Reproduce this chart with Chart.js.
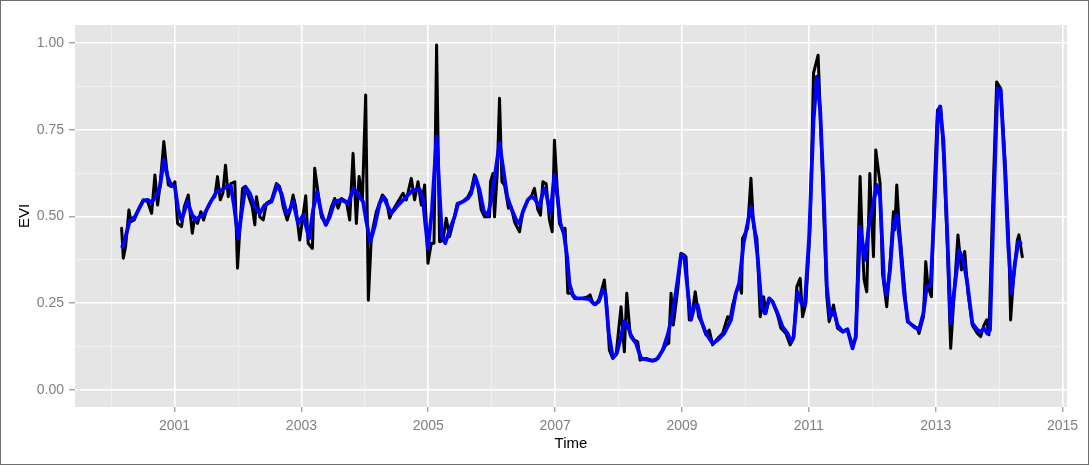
<!DOCTYPE html>
<html>
<head>
<meta charset="utf-8">
<script src="https://cdn.jsdelivr.net/npm/chart.js@4/dist/chart.umd.min.js"></script>
<style>
  html, body { margin: 0; padding: 0; background: #fff; }
  canvas { display: block; }
</style>
</head>
<body>
<canvas id="evi" width="1089" height="465"></canvas>
<script>
// raw 16-day EVI (black) and fitted series (blue)
const rawTime = [
  2000.165, 2000.192, 2000.228, 2000.280, 2000.312, 2000.365, 2000.428, 2000.507, 2000.575, 2000.638,
  2000.690, 2000.732, 2000.769, 2000.831, 2000.901, 2000.953, 2001.005, 2001.047, 2001.110, 2001.153,
  2001.216, 2001.279, 2001.320, 2001.362, 2001.414, 2001.457, 2001.504, 2001.583, 2001.635, 2001.677,
  2001.720, 2001.761, 2001.803, 2001.846, 2001.887, 2001.950, 2001.992, 2002.028, 2002.071, 2002.107,
  2002.170, 2002.224, 2002.265, 2002.291, 2002.343, 2002.397, 2002.449, 2002.528, 2002.606, 2002.658,
  2002.712, 2002.775, 2002.816, 2002.869, 2002.910, 2002.973, 2003.016, 2003.068, 2003.106, 2003.173,
  2003.209, 2003.263, 2003.315, 2003.394, 2003.472, 2003.524, 2003.578, 2003.630, 2003.709, 2003.761,
  2003.814, 2003.866, 2003.909, 2003.961, 2004.013, 2004.055, 2004.102, 2004.181, 2004.276, 2004.339,
  2004.391, 2004.444, 2004.523, 2004.602, 2004.654, 2004.732, 2004.784, 2004.838, 2004.890, 2004.942,
  2004.995, 2005.047, 2005.090, 2005.131, 2005.178, 2005.231, 2005.283, 2005.335, 2005.389, 2005.457,
  2005.546, 2005.625, 2005.677, 2005.729, 2005.783, 2005.835, 2005.887, 2005.965, 2005.981, 2006.019,
  2006.044, 2006.087, 2006.123, 2006.161, 2006.202, 2006.265, 2006.307, 2006.359, 2006.438, 2006.491,
  2006.570, 2006.622, 2006.674, 2006.728, 2006.769, 2006.806, 2006.858, 2006.910, 2006.953, 2006.989,
  2007.031, 2007.068, 2007.121, 2007.157, 2007.200, 2007.252, 2007.304, 2007.436, 2007.515, 2007.551,
  2007.594, 2007.646, 2007.698, 2007.776, 2007.814, 2007.855, 2007.909, 2007.961, 2008.039, 2008.091,
  2008.129, 2008.181, 2008.249, 2008.302, 2008.339, 2008.433, 2008.512, 2008.591, 2008.669, 2008.748,
  2008.791, 2008.827, 2008.863, 2008.932, 2008.984, 2009.036, 2009.063, 2009.115, 2009.169, 2009.209,
  2009.263, 2009.315, 2009.378, 2009.430, 2009.483, 2009.562, 2009.641, 2009.720, 2009.756, 2009.798,
  2009.850, 2009.902, 2009.939, 2009.954, 2010.035, 2010.087, 2010.129, 2010.181, 2010.233, 2010.287,
  2010.323, 2010.375, 2010.428, 2010.507, 2010.559, 2010.638, 2010.706, 2010.759, 2010.811, 2010.863,
  2010.901, 2010.953, 2011.020, 2011.074, 2011.146, 2011.178, 2011.231, 2011.283, 2011.320, 2011.389,
  2011.452, 2011.531, 2011.609, 2011.688, 2011.740, 2011.808, 2011.846, 2011.871, 2011.913, 2011.961,
  2012.019, 2012.055, 2012.123, 2012.161, 2012.228, 2012.280, 2012.334, 2012.354, 2012.386, 2012.422,
  2012.476, 2012.554, 2012.633, 2012.712, 2012.737, 2012.806, 2012.843, 2012.879, 2012.932, 2012.973,
  2013.027, 2013.079, 2013.131, 2013.184, 2013.236, 2013.288, 2013.351, 2013.405, 2013.457, 2013.509,
  2013.578, 2013.657, 2013.709, 2013.761, 2013.803, 2013.839, 2013.893, 2013.961, 2014.024, 2014.102,
  2014.154, 2014.181, 2014.224, 2014.287, 2014.312, 2014.365
];
const rawEVI = [
  0.466, 0.380, 0.413, 0.519, 0.485, 0.490, 0.519, 0.548, 0.543, 0.509,
  0.620, 0.533, 0.586, 0.716, 0.591, 0.586, 0.600, 0.480, 0.471, 0.528,
  0.562, 0.452, 0.499, 0.480, 0.514, 0.490, 0.519, 0.548, 0.557, 0.615,
  0.548, 0.567, 0.648, 0.557, 0.595, 0.600, 0.351, 0.461, 0.581, 0.586,
  0.557, 0.528, 0.476, 0.557, 0.499, 0.490, 0.538, 0.548, 0.595, 0.586,
  0.528, 0.490, 0.514, 0.562, 0.528, 0.432, 0.490, 0.560, 0.423, 0.408,
  0.639, 0.567, 0.499, 0.476, 0.528, 0.552, 0.524, 0.552, 0.543, 0.490,
  0.682, 0.480, 0.615, 0.548, 0.850, 0.259, 0.442, 0.514, 0.562, 0.548,
  0.495, 0.519, 0.543, 0.567, 0.548, 0.610, 0.548, 0.600, 0.533, 0.591,
  0.365, 0.423, 0.423, 0.994, 0.427, 0.432, 0.495, 0.442, 0.480, 0.538,
  0.543, 0.557, 0.576, 0.620, 0.586, 0.519, 0.499, 0.499, 0.600, 0.624,
  0.499, 0.624, 0.841, 0.600, 0.591, 0.524, 0.528, 0.485, 0.456, 0.514,
  0.548, 0.557, 0.581, 0.519, 0.504, 0.600, 0.595, 0.490, 0.456, 0.720,
  0.586, 0.480, 0.461, 0.466, 0.279, 0.279, 0.264, 0.264, 0.269, 0.274,
  0.250, 0.247, 0.264, 0.317, 0.240, 0.115, 0.091, 0.101, 0.240, 0.110,
  0.279, 0.163, 0.144, 0.139, 0.086, 0.091, 0.086, 0.086, 0.106, 0.130,
  0.135, 0.279, 0.187, 0.288, 0.394, 0.389, 0.384, 0.202, 0.231, 0.283,
  0.211, 0.192, 0.159, 0.173, 0.130, 0.149, 0.163, 0.211, 0.202, 0.245,
  0.279, 0.307, 0.279, 0.437, 0.466, 0.610, 0.471, 0.437, 0.211, 0.269,
  0.221, 0.264, 0.254, 0.216, 0.178, 0.163, 0.130, 0.149, 0.298, 0.322,
  0.211, 0.250, 0.471, 0.913, 0.965, 0.807, 0.528, 0.269, 0.197, 0.245,
  0.178, 0.168, 0.173, 0.130, 0.149, 0.615, 0.413, 0.317, 0.283, 0.624,
  0.384, 0.692, 0.595, 0.336, 0.240, 0.365, 0.514, 0.461, 0.591, 0.480,
  0.365, 0.197, 0.187, 0.178, 0.163, 0.211, 0.370, 0.298, 0.269, 0.557,
  0.807, 0.817, 0.653, 0.413, 0.120, 0.269, 0.447, 0.346, 0.399, 0.279,
  0.187, 0.163, 0.154, 0.187, 0.202, 0.159, 0.499, 0.888, 0.869, 0.634,
  0.413, 0.202, 0.317, 0.432, 0.447, 0.384
];

const fitTime = [
  2000.176, 2000.228, 2000.296, 2000.375, 2000.454, 2000.507, 2000.575, 2000.638, 2000.717, 2000.769,
  2000.831, 2000.890, 2000.942, 2001.005, 2001.058, 2001.110, 2001.162, 2001.205, 2001.268, 2001.320,
  2001.398, 2001.477, 2001.556, 2001.661, 2001.740, 2001.819, 2001.887, 2001.940, 2002.003, 2002.055,
  2002.118, 2002.186, 2002.265, 2002.343, 2002.422, 2002.528, 2002.617, 2002.685, 2002.764, 2002.816,
  2002.869, 2002.948, 2003.027, 2003.121, 2003.184, 2003.247, 2003.315, 2003.383, 2003.446, 2003.524,
  2003.630, 2003.735, 2003.824, 2003.893, 2003.972, 2004.024, 2004.087, 2004.154, 2004.233, 2004.296,
  2004.339, 2004.417, 2004.523, 2004.654, 2004.759, 2004.863, 2004.917, 2004.942, 2004.995, 2005.058,
  2005.131, 2005.178, 2005.216, 2005.268, 2005.335, 2005.414, 2005.468, 2005.546, 2005.625, 2005.677,
  2005.740, 2005.808, 2005.877, 2005.940, 2005.992, 2006.055, 2006.123, 2006.192, 2006.244, 2006.307,
  2006.386, 2006.438, 2006.491, 2006.570, 2006.622, 2006.674, 2006.753, 2006.822, 2006.858, 2006.926,
  2006.989, 2007.042, 2007.083, 2007.137, 2007.189, 2007.225, 2007.279, 2007.331, 2007.436, 2007.540,
  2007.619, 2007.688, 2007.751, 2007.792, 2007.846, 2007.909, 2007.972, 2008.039, 2008.091, 2008.145,
  2008.197, 2008.276, 2008.354, 2008.433, 2008.539, 2008.617, 2008.696, 2008.775, 2008.854, 2008.932,
  2008.984, 2009.036, 2009.090, 2009.142, 2009.194, 2009.247, 2009.299, 2009.378, 2009.483, 2009.562,
  2009.666, 2009.772, 2009.850, 2009.902, 2009.971, 2010.024, 2010.087, 2010.139, 2010.192, 2010.255,
  2010.307, 2010.375, 2010.428, 2010.507, 2010.586, 2010.665, 2010.717, 2010.759, 2010.822, 2010.885,
  2010.937, 2011.005, 2011.074, 2011.126, 2011.178, 2011.231, 2011.283, 2011.335, 2011.398, 2011.452,
  2011.531, 2011.609, 2011.688, 2011.740, 2011.808, 2011.887, 2011.950, 2012.003, 2012.071, 2012.123,
  2012.186, 2012.228, 2012.280, 2012.334, 2012.386, 2012.438, 2012.501, 2012.564, 2012.658, 2012.737,
  2012.806, 2012.858, 2012.921, 2012.984, 2013.036, 2013.068, 2013.121, 2013.184, 2013.236, 2013.288,
  2013.367, 2013.436, 2013.499, 2013.578, 2013.657, 2013.709, 2013.761, 2013.814, 2013.856, 2013.918,
  2013.972, 2014.024, 2014.087, 2014.145, 2014.197, 2014.249, 2014.302, 2014.339
];
const fitEVI = [
  0.413, 0.442, 0.490, 0.499, 0.528, 0.546, 0.548, 0.540, 0.562, 0.586,
  0.663, 0.615, 0.591, 0.586, 0.519, 0.490, 0.519, 0.543, 0.509, 0.490,
  0.499, 0.509, 0.538, 0.571, 0.576, 0.586, 0.588, 0.528, 0.437, 0.509,
  0.586, 0.567, 0.528, 0.509, 0.533, 0.543, 0.591, 0.567, 0.509, 0.519,
  0.543, 0.480, 0.504, 0.437, 0.519, 0.571, 0.509, 0.476, 0.499, 0.543,
  0.548, 0.538, 0.581, 0.562, 0.543, 0.485, 0.427, 0.471, 0.538, 0.557,
  0.538, 0.509, 0.533, 0.557, 0.576, 0.578, 0.548, 0.499, 0.408, 0.519,
  0.730, 0.567, 0.442, 0.423, 0.461, 0.499, 0.536, 0.543, 0.552, 0.567,
  0.615, 0.576, 0.514, 0.504, 0.548, 0.624, 0.711, 0.624, 0.557, 0.524,
  0.490, 0.480, 0.514, 0.548, 0.557, 0.552, 0.528, 0.581, 0.567, 0.509,
  0.620, 0.548, 0.480, 0.451, 0.384, 0.307, 0.274, 0.264, 0.264, 0.262,
  0.247, 0.255, 0.288, 0.278, 0.163, 0.094, 0.106, 0.154, 0.197, 0.187,
  0.154, 0.134, 0.091, 0.088, 0.084, 0.091, 0.115, 0.159, 0.221, 0.317,
  0.389, 0.384, 0.288, 0.202, 0.240, 0.245, 0.202, 0.163, 0.134, 0.144,
  0.163, 0.202, 0.279, 0.307, 0.423, 0.471, 0.528, 0.471, 0.384, 0.240,
  0.221, 0.264, 0.254, 0.221, 0.182, 0.163, 0.139, 0.154, 0.283, 0.250,
  0.245, 0.442, 0.778, 0.903, 0.807, 0.586, 0.298, 0.211, 0.226, 0.187,
  0.168, 0.175, 0.120, 0.154, 0.471, 0.375, 0.480, 0.524, 0.591, 0.557,
  0.310, 0.274, 0.346, 0.480, 0.504, 0.423, 0.279, 0.197, 0.182, 0.173,
  0.221, 0.298, 0.303, 0.538, 0.797, 0.817, 0.720, 0.442, 0.192, 0.279,
  0.403, 0.375, 0.307, 0.192, 0.173, 0.168, 0.178, 0.163, 0.173, 0.557,
  0.869, 0.865, 0.653, 0.413, 0.279, 0.365, 0.427, 0.423
];

// axes: majors get labels, the rest are minor grid lines
const yearTicks = [2000, 2001, 2002, 2003, 2004, 2005, 2006, 2007, 2008, 2009, 2010, 2011, 2012, 2013, 2014, 2015];
const yearLabels = [2001, 2003, 2005, 2007, 2009, 2011, 2013, 2015];
const eviTicks = [0, 0.125, 0.25, 0.375, 0.5, 0.625, 0.75, 0.875, 1];
const eviLabels = [0, 0.25, 0.5, 0.75, 1];

const FONT = "'Liberation Sans', Arial, Helvetica, sans-serif";
const isMajorX = v => yearLabels.includes(v);
const isMajorY = v => eviLabels.some(l => Math.abs(l - v) < 1e-9);

const panel = {
  id: 'panel',
  beforeDraw(chart) {
    const { ctx, chartArea: a } = chart;
    ctx.save();
    ctx.fillStyle = '#ffffff';
    ctx.fillRect(0, 0, chart.width, chart.height);
    ctx.fillStyle = '#e5e5e5';
    ctx.fillRect(a.left, a.top, a.right - a.left, a.bottom - a.top);
    ctx.restore();
  },
  afterDraw(chart) {
    const ctx = chart.ctx;
    ctx.save();
    ctx.strokeStyle = '#6e6e6e';
    ctx.lineWidth = 1;
    ctx.strokeRect(0.5, 0.5, chart.width - 1, chart.height - 1);
    ctx.restore();
  }
};

new Chart(document.getElementById('evi'), {
  type: 'line',
  data: {
    datasets: [
      {
        label: 'EVI',
        data: rawTime.map((t, i) => ({ x: t, y: rawEVI[i] })),
        borderColor: '#000000',
        borderWidth: 3,
        pointRadius: 0,
        tension: 0,
        borderJoinStyle: 'round',
        borderCapStyle: 'round',
        order: 1
      },
      {
        label: 'fitted',
        data: fitTime.map((t, i) => ({ x: t, y: fitEVI[i] })),
        borderColor: '#0000ff',
        borderWidth: 3.8,
        pointRadius: 0,
        tension: 0,
        borderJoinStyle: 'round',
        borderCapStyle: 'round',
        order: 0
      }
    ]
  },
  options: {
    responsive: false,
    animation: false,
    devicePixelRatio: 1,
    layout: { padding: { left: 0, right: 22, top: 25, bottom: 0 } },
    plugins: { legend: { display: false }, tooltip: { enabled: false } },
    scales: {
      x: {
        type: 'linear',
        min: 1999.43,
        max: 2015.07,
        afterBuildTicks: s => { s.ticks = yearTicks.map(v => ({ value: v })); },
        afterFit: s => { s.height = 58; },
        border: { display: false },
        grid: {
          color: c => isMajorX(c.tick.value) ? '#ffffff' : '#f2f2f2',
          lineWidth: c => isMajorX(c.tick.value) ? 1.6 : 0.8,
          tickColor: c => isMajorX(c.tick.value) ? '#7f7f7f' : 'rgba(0,0,0,0)',
          tickLength: 5,
          tickWidth: 1
        },
        ticks: {
          autoSkip: false,
          maxRotation: 0,
          padding: 6,
          color: '#7f7f7f',
          font: { family: FONT, size: 14 },
          callback: v => isMajorX(v) ? String(v) : ''
        },
        title: {
          display: true,
          text: 'Time',
          color: '#000000',
          font: { family: FONT, size: 15 },
          padding: { top: 0, bottom: 12 }
        }
      },
      y: {
        min: -0.049,
        max: 1.052,
        afterBuildTicks: s => { s.ticks = eviTicks.map(v => ({ value: v })); },
        afterFit: s => { s.width = 75; },
        border: { display: false },
        grid: {
          color: c => isMajorY(c.tick.value) ? '#ffffff' : '#f2f2f2',
          lineWidth: c => isMajorY(c.tick.value) ? 1.6 : 0.8,
          tickColor: c => isMajorY(c.tick.value) ? '#7f7f7f' : 'rgba(0,0,0,0)',
          tickLength: 6,
          tickWidth: 1
        },
        ticks: {
          autoSkip: false,
          padding: 5,
          color: '#7f7f7f',
          font: { family: FONT, size: 14 },
          callback: v => isMajorY(v) ? v.toFixed(2) : ''
        },
        title: {
          display: true,
          text: 'EVI',
          color: '#000000',
          font: { family: FONT, size: 15 },
          padding: { top: 16, bottom: 0 }
        }
      }
    }
  },
  plugins: [panel]
});
</script>
</body>
</html>
